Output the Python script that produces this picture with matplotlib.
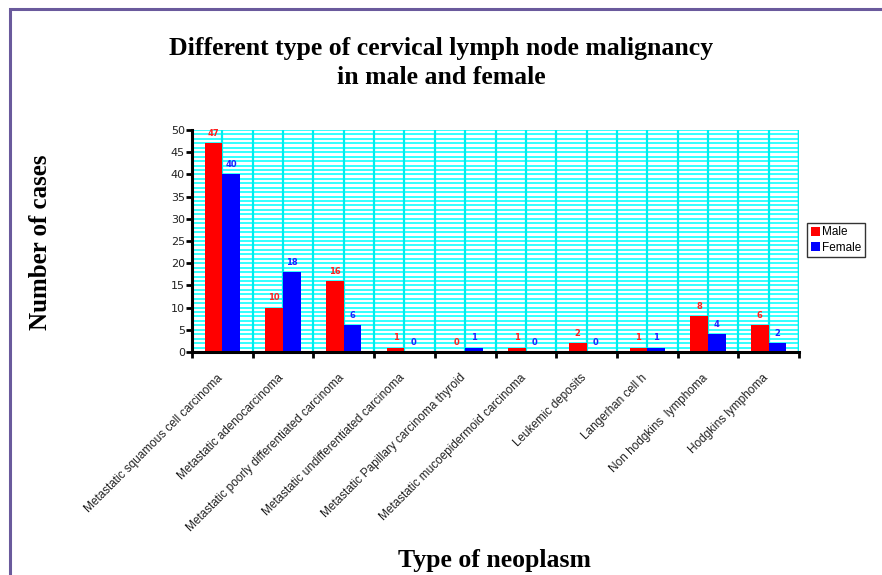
import numpy as np
import matplotlib
matplotlib.use("Agg")
import matplotlib.pyplot as plt
import matplotlib.patches as mpatches

# %% Data

categories = [
    "Metastatic squamous cell carcinoma",
    "Metastatic adenocarcinoma",
    "Metastatic poorly differentiated carcinoma",
    "Metastatic undifferentiated carcinoma",
    "Metastatic Papillary carcinoma thyroid",
    "Metastatic mucoepidermoid carcinoma",
    "Leukemic deposits",
    "Langerhan cell h",
    "Non hodgkins  lymphoma",
    "Hodgkins lymphoma",
]
male = [47, 10, 16, 1, 0, 1, 2, 1, 8, 6]
female = [40, 18, 6, 0, 1, 0, 0, 1, 4, 2]
y_ticks = [0, 5, 10, 15, 20, 25, 30, 35, 40, 45, 50]

# %% Figure

fig = plt.figure(figsize=(8.82, 5.75), dpi=100)
ax = fig.add_axes([192 / 882, 1 - 352 / 575, (799 - 192) / 882, (352 - 130) / 575])

n = len(categories)
x = np.arange(n)
bw = 0.29

# background stripes (gridlines every unit, every half category)
for yv in range(1, 51):
    ax.axhline(yv, color="#22ffff", lw=1.3, zorder=0)
for xv in np.arange(-0.5, n, 0.5)[1:]:
    ax.axvline(xv, color="#00eeee", lw=1.6, zorder=0.5)
ax.axvline(n - 0.5, color="#00eeee", lw=2.5, zorder=0.5)

ax.bar(x - bw / 2, male, width=bw, color="#ff0000", label="Male", zorder=2)
ax.bar(x + bw / 2, female, width=bw, color="#0000ff", label="Female", zorder=2)

for i in range(n):
    ax.text(x[i] - bw / 2, male[i] + 1.2, str(male[i]), ha="center", va="bottom",
            fontsize=6, color="#ff2020", fontweight="bold")
    ax.text(x[i] + bw / 2, female[i] + 1.2, str(female[i]), ha="center", va="bottom",
            fontsize=6, color="#2020ff", fontweight="bold")

ax.set_xlim(-0.5, n - 0.5)
ax.set_ylim(0, 50)
ax.set_yticks(y_ticks)
ax.set_xticks(np.arange(-0.5, n, 1.0))
ax.set_xticklabels([])
ax.tick_params(axis="both", direction="out", length=4, width=2, color="black",
               labelsize=8, labelcolor="#222222")
ax.tick_params(axis="y", pad=1)

for side in ["top", "right"]:
    ax.spines[side].set_visible(False)
for side in ["left", "bottom"]:
    ax.spines[side].set_linewidth(2.2)
    ax.spines[side].set_zorder(3)

# rotated category labels anchored at each category centre
for i, lab in enumerate(categories):
    ax.text(x[i] - 0.1, -4.5, lab, rotation=45, ha="right", va="top",
            rotation_mode="anchor", fontsize=8.5, color="#222222",
            family="Liberation Sans")

fig.text(441 / 882, 1 - 48 / 575, "Different type of cervical lymph node malignancy",
         ha="center", va="center", fontsize=18.5, fontweight="bold",
         family="Liberation Serif")
fig.text(441 / 882, 1 - 77 / 575, "in male and female",
         ha="center", va="center", fontsize=18.5, fontweight="bold",
         family="Liberation Serif")
fig.text(41 / 882, 1 - 242 / 575, "Number of cases", rotation=90,
         ha="center", va="center", fontsize=18, fontweight="bold",
         family="Liberation Serif")
fig.text(494 / 882, 1 - 560 / 575, "Type of neoplasm",
         ha="center", va="center", fontsize=18.5, fontweight="bold",
         family="Liberation Serif")

leg = fig.legend(loc="center left", bbox_to_anchor=(807 / 882, 1 - 240 / 575),
                 frameon=True, fancybox=False, edgecolor="black",
                 handlelength=0.8, handleheight=0.8, handletextpad=0.2,
                 borderpad=0.3, labelspacing=0.3, borderaxespad=0,
                 prop={"family": "Liberation Sans", "size": 8.5})
leg.get_frame().set_linewidth(1.0)

# outer purple frame
frame = mpatches.Rectangle((10 / 882, -0.1), 1.2, 1 - 9 / 575 + 0.1,
                           transform=fig.transFigure, fill=False,
                           edgecolor="#6a5a9c", lw=2.2, zorder=10)
fig.patches.append(frame)

fig.savefig("out.png", dpi=100)
